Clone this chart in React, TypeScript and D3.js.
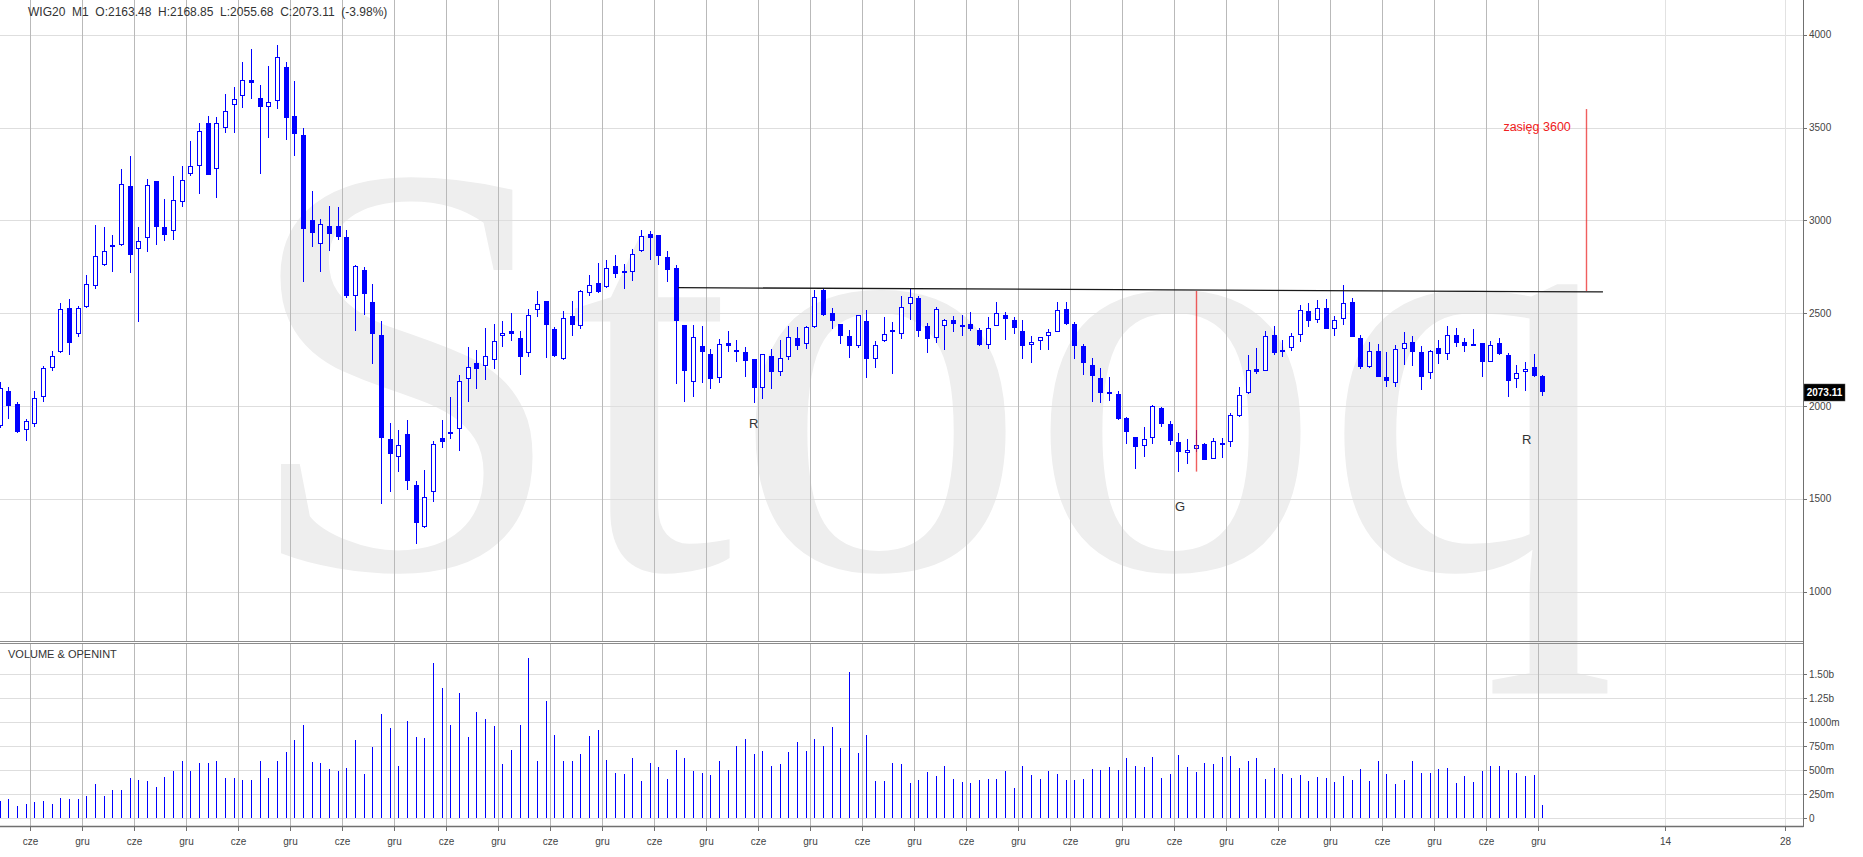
import React from 'react';
import * as d3 from 'd3';

// ---- Data: WIG20 monthly candles ----
const opens = [
  1890, 2083, 2010, 1869, 1904, 2049, 2203, 2290, 2528, 2387,
  2534, 2646, 2762, 2858, 2866, 3187, 2847, 2907, 3214, 2966,
  2943, 3098, 3252, 3295, 3523, 3279, 3496, 3623, 3670, 3755,
  3658, 3610, 3643, 3826, 3565, 3459, 3001, 2874, 2970, 2970,
  2912, 2595, 2735, 2561, 2383, 1821, 1726, 1852, 1575, 1347,
  1537, 1830, 1852, 1875, 2145, 2232, 2217, 2246, 2377, 2402,
  2367, 2284, 2518, 2565, 2414, 2252, 2487, 2429, 2609, 2661,
  2642, 2754, 2729, 2723, 2836, 2926, 2921, 2805, 2745, 2435,
  2128, 2325, 2282, 2153, 2339, 2303, 2292, 2255, 2096, 2271,
  2186, 2267, 2366, 2332, 2426, 2623, 2502, 2442, 2379, 2321,
  2459, 2253, 2348, 2412, 2388, 2552, 2583, 2433, 2366, 2433,
  2462, 2437, 2442, 2408, 2330, 2433, 2493, 2466, 2406, 2330,
  2352, 2379, 2397, 2523, 2442, 2325, 2222, 2150, 2074, 2063,
  1935, 1834, 1787, 1830, 1987, 1901, 1809, 1749, 1767, 1798,
  1717, 1803, 1807, 1946, 2069, 2199, 2191, 2383, 2291, 2314,
  2383, 2511, 2466, 2529, 2415, 2469, 2561, 2366, 2213, 2294,
  2159, 2123, 2310, 2345, 2291, 2177, 2312, 2282, 2385, 2345,
  2325, 2339, 2240, 2339, 2276, 2144, 2182, 2209, 2163.48,
];
const highs = [
  2130, 2101, 2024, 1929, 2083, 2217, 2294, 2555, 2578, 2537,
  2706, 2976, 2966, 2922, 3279, 3349, 2966, 3225, 3214, 3117,
  3241, 3291, 3430, 3523, 3565, 3556, 3681, 3720, 3855, 3923,
  3729, 3832, 3946, 3855, 3749, 3498, 3160, 3009, 3078, 3071,
  2947, 2758, 2750, 2657, 2458, 1908, 1869, 1923, 1598, 1653,
  1811, 1923, 2049, 2170, 2317, 2300, 2422, 2441, 2458, 2503,
  2406, 2522, 2619, 2568, 2425, 2510, 2565, 2624, 2706, 2769,
  2787, 2812, 2764, 2847, 2950, 2944, 2921, 2836, 2758, 2439,
  2439, 2430, 2309, 2363, 2406, 2357, 2318, 2255, 2282, 2307,
  2357, 2430, 2424, 2430, 2623, 2637, 2529, 2442, 2412, 2491,
  2520, 2348, 2480, 2451, 2592, 2628, 2592, 2448, 2532, 2469,
  2487, 2493, 2509, 2421, 2480, 2563, 2509, 2480, 2466, 2379,
  2372, 2415, 2563, 2563, 2455, 2336, 2258, 2204, 2155, 2083,
  1942, 1834, 1885, 2005, 1996, 1919, 1857, 1820, 1870, 1800,
  1830, 1830, 1964, 2101, 2276, 2312, 2403, 2430, 2357, 2394,
  2542, 2556, 2569, 2578, 2484, 2653, 2583, 2384, 2343, 2334,
  2291, 2329, 2397, 2379, 2325, 2303, 2357, 2430, 2421, 2366,
  2415, 2339, 2348, 2364, 2285, 2220, 2236, 2282, 2168.85,
];
const lows = [
  1880, 1933, 1855, 1811, 1888, 2020, 2190, 2286, 2277, 2373,
  2530, 2628, 2754, 2721, 2862, 2715, 2451, 2831, 2866, 2889,
  2893, 3073, 3237, 3144, 3245, 3121, 3469, 3473, 3604, 3652,
  3252, 3446, 3598, 3434, 3349, 2671, 2858, 2721, 2835, 2893,
  2580, 2406, 2493, 2228, 1473, 1537, 1643, 1546, 1257, 1343,
  1483, 1776, 1821, 1759, 2024, 2091, 2140, 2197, 2319, 2352,
  2170, 2267, 2479, 2261, 2263, 2248, 2375, 2414, 2595, 2607,
  2638, 2692, 2630, 2673, 2830, 2787, 2758, 2668, 2117, 2023,
  2051, 2123, 2094, 2123, 2289, 2240, 2159, 2014, 2040, 2094,
  2164, 2249, 2303, 2310, 2422, 2484, 2415, 2334, 2258, 2312,
  2153, 2204, 2343, 2171, 2361, 2466, 2372, 2285, 2339, 2300,
  2397, 2375, 2403, 2325, 2307, 2430, 2354, 2388, 2253, 2231,
  2303, 2303, 2397, 2439, 2253, 2168, 2020, 2014, 2029, 1924,
  1798, 1663, 1726, 1798, 1888, 1789, 1644, 1690, 1753, 1711,
  1717, 1721, 1780, 1942, 2063, 2173, 2191, 2276, 2264, 2294,
  2343, 2424, 2448, 2415, 2375, 2435, 2372, 2199, 2204, 2155,
  2101, 2101, 2222, 2217, 2087, 2146, 2226, 2249, 2318, 2291,
  2325, 2155, 2236, 2274, 2047, 2096, 2081, 2159, 2055.68,
];
const closes = [
  2097, 2000, 1859, 1917, 2045, 2203, 2271, 2522, 2342, 2528,
  2657, 2808, 2835, 2870, 3198, 2812, 2889, 3192, 2966, 2920,
  3109, 3218, 3291, 3484, 3245, 3523, 3592, 3652, 3758, 3739,
  3610, 3637, 3880, 3550, 3463, 2955, 2934, 2982, 2928, 2912,
  2595, 2754, 2603, 2387, 1830, 1743, 1792, 1595, 1372, 1512,
  1797, 1807, 1861, 2136, 2213, 2197, 2271, 2352, 2391, 2387,
  2267, 2493, 2549, 2435, 2271, 2474, 2435, 2619, 2653, 2615,
  2746, 2711, 2719, 2818, 2917, 2908, 2809, 2735, 2457, 2191,
  2372, 2289, 2148, 2336, 2321, 2289, 2245, 2099, 2282, 2186,
  2258, 2372, 2321, 2426, 2588, 2493, 2457, 2375, 2321, 2491,
  2253, 2330, 2386, 2399, 2534, 2588, 2403, 2361, 2523, 2462,
  2442, 2426, 2415, 2330, 2421, 2502, 2469, 2421, 2321, 2345,
  2372, 2399, 2516, 2442, 2325, 2231, 2164, 2069, 2063, 1928,
  1861, 1780, 1825, 2000, 1901, 1812, 1753, 1762, 1792, 1711,
  1812, 1792, 1950, 2058, 2193, 2181, 2379, 2285, 2301, 2379,
  2516, 2457, 2529, 2415, 2462, 2556, 2372, 2213, 2294, 2159,
  2137, 2307, 2339, 2289, 2155, 2294, 2280, 2383, 2339, 2321,
  2336, 2240, 2330, 2282, 2137, 2177, 2199, 2164, 2073.11,
];
// volume in millions
const volumes = [
  180, 196, 127, 148, 169, 179, 148, 210, 200, 200,
  230, 354, 230, 299, 292, 416, 396, 385, 323, 427,
  488, 602, 488, 581, 581, 602, 416, 416, 396, 396,
  602, 416, 602, 695, 819, 970, 588, 578, 509, 488,
  519, 819, 458, 746, 1087, 943, 540, 1015, 850, 839,
  1620, 1362, 970, 1304, 850, 1108, 1035, 963, 561, 716,
  970, 1665, 602, 1218, 870, 602, 602, 674, 860, 922,
  612, 468, 458, 623, 385, 581, 530, 406, 716, 633,
  488, 468, 447, 602, 499, 757, 829, 674, 705, 550,
  561, 695, 798, 705, 829, 757, 953, 736, 1520, 685,
  870, 385, 385, 581, 561, 365, 396, 478, 437, 550,
  406, 375, 365, 396, 406, 406, 488, 313, 540, 447,
  406, 488, 458, 396, 402, 413, 509, 499, 530, 499,
  633, 540, 530, 643, 416, 458, 664, 530, 478, 581,
  561, 643, 654, 519, 602, 633, 406, 519, 458, 416,
  447, 385, 427, 416, 375, 437, 396, 509, 385, 592,
  458, 354, 396, 602, 468, 468, 509, 519, 365, 437,
  375, 488, 540, 540, 499, 468, 437, 447, 138,
];

const priceTicks = [1000, 1500, 2000, 2500, 3000, 3500, 4000];
const volumeTicks = [0, 250, 500, 750, 1000, 1250, 1500];
const volumeTickLabels = ['0', '250m', '500m', '750m', '1000m', '1.25b', '1.50b'];
const timeTickLabels = [
  'cze', 'gru', 'cze', 'gru', 'cze', 'gru', 'cze', 'gru', 'cze', 'gru',
  'cze', 'gru', 'cze', 'gru', 'cze', 'gru', 'cze', 'gru', 'cze', 'gru',
  'cze', 'gru', 'cze', 'gru', 'cze', 'gru', 'cze', 'gru', 'cze', 'gru',
];
const futureTickLabels = ['14', '28'];
const futureTickIdx = [192.2, 206];
const lastChange = '(-3.98%)';

// annotations in data units (candle index, price)
const resistance = { i0: 78.3, p0: 2638, i1: 185, p1: 2615 };
const redLines = [
  { i: 138.1, p0: 2620, p1: 1647 },
  { i: 183.0, p0: 3600, p1: 2620 },
];
const targetLabel = { i: 177.4, p: 3503, text: 'zasięg 3600' };
const letterLabels = [
  { i: 87.0, p: 1909, text: 'R' },
  { i: 136.2, p: 1462, text: 'G' },
  { i: 176.2, p: 1823, text: 'R' },
];

const W = 1863;
const H = 857;
const AXIS_X = 1803;
const MAIN_BOTTOM = 641;
const VOL_TOP = 644;
const AXIS_BOTTOM = 826;
const BLUE = '#0000ff';
const FONT = '"Liberation Sans", Arial, sans-serif';

export default function App() {
  const n = closes.length;
  const x = d3.scaleLinear().domain([0, n - 1]).range([-0.37, 1542.3]);
  const py = d3.scaleLinear().domain([1000, 4000]).range([591.7, 34.8]);
  const vy = d3.scaleLinear().domain([0, 1500]).range([818.3, 674.3]);

  const timeTicks = timeTickLabels.map((lab, k) => ({ lab, px: Math.round(x(3.5 + 6 * k)) + 0.5 }));
  const futTicks = futureTickLabels.map((lab, k) => ({ lab, px: Math.round(x(futureTickIdx[k])) + 0.5 }));

  const header = `WIG20  M1  O:${opens[n - 1].toFixed(2)}  H:${highs[n - 1].toFixed(2)}  L:${lows[n - 1].toFixed(2)}  C:${closes[n - 1].toFixed(2)}  ${lastChange}`;
  const lastY = Math.round(py(closes[n - 1]));

  return (
    <div style={{ position: 'absolute', left: 0, top: 0 }}>
      <svg width={W} height={H} style={{ display: 'block', background: '#fff' }}>
        {/* watermark */}
        <text x={241} y={568} fontFamily='"Liberation Serif", "Times New Roman", serif' fontSize={590} fill="#eeeeee">
          Stooq
        </text>

        {/* horizontal grid - price */}
        {priceTicks.map((t) => (
          <line key={'pg' + t} x1={0} x2={AXIS_X} y1={Math.round(py(t)) + 0.5} y2={Math.round(py(t)) + 0.5} stroke="#dedede" />
        ))}
        {/* horizontal grid - volume */}
        {volumeTicks.map((t) => (
          <line key={'vg' + t} x1={0} x2={AXIS_X} y1={Math.round(vy(t)) + 0.5} y2={Math.round(vy(t)) + 0.5} stroke="#dedede" />
        ))}
        {/* vertical grid */}
        {timeTicks.map((t, k) => (
          <g key={'tg' + k}>
            <line x1={t.px} x2={t.px} y1={0} y2={MAIN_BOTTOM} stroke="#b9b9b9" />
            <line x1={t.px} x2={t.px} y1={VOL_TOP} y2={AXIS_BOTTOM} stroke="#b9b9b9" />
          </g>
        ))}
        {futTicks.map((t, k) => (
          <g key={'fg' + k}>
            <line x1={t.px} x2={t.px} y1={0} y2={MAIN_BOTTOM} stroke="#e2e2e2" />
            <line x1={t.px} x2={t.px} y1={VOL_TOP} y2={AXIS_BOTTOM} stroke="#e2e2e2" />
          </g>
        ))}

        {/* panel separators and axes */}
        <line x1={0} x2={AXIS_X} y1={MAIN_BOTTOM + 0.5} y2={MAIN_BOTTOM + 0.5} stroke="#8c8c8c" />
        <line x1={0} x2={AXIS_X} y1={VOL_TOP - 0.5} y2={VOL_TOP - 0.5} stroke="#8c8c8c" />
        <line x1={0} x2={AXIS_X + 0.5} y1={AXIS_BOTTOM + 0.5} y2={AXIS_BOTTOM + 0.5} stroke="#707070" strokeWidth={1.5} />
        <line x1={AXIS_X + 0.5} x2={AXIS_X + 0.5} y1={0} y2={AXIS_BOTTOM + 1} stroke="#707070" />

        {/* header */}
        <text x={28} y={16} fontFamily={FONT} fontSize={12} fill="#333" style={{ whiteSpace: 'pre' }}>
          {header}
        </text>
        <text x={8} y={658} fontFamily={FONT} fontSize={11} fill="#333">
          VOLUME &amp; OPENINT
        </text>

        {/* volume bars */}
        {volumes.map((v, i) => {
          const cx = Math.round(x(i)) + 0.5;
          return <line key={'v' + i} x1={cx} x2={cx} y1={Math.round(vy(0))} y2={Math.round(vy(v))} stroke={BLUE} strokeWidth={1} />;
        })}

        {/* candles */}
        {closes.map((c, i) => {
          const o = opens[i];
          const cx = Math.round(x(i));
          const yH = Math.round(py(highs[i]));
          const yL = Math.round(py(lows[i]));
          const yO = Math.round(py(o));
          const yC = Math.round(py(c));
          const up = c >= o;
          return (
            <g key={'c' + i}>
              <line x1={cx + 0.5} x2={cx + 0.5} y1={yH} y2={yL} stroke={BLUE} strokeWidth={1} />
              {up ? (
                <rect x={cx - 1.5} y={yC + 0.5} width={4} height={Math.max(yO - yC - 1, 1)} fill="#fff" stroke={BLUE} strokeWidth={1} />
              ) : (
                <rect x={cx - 2} y={yO} width={5} height={Math.max(yC - yO, 1)} fill={BLUE} />
              )}
            </g>
          );
        })}

        {/* annotations */}
        <line
          x1={x(resistance.i0)}
          y1={py(resistance.p0)}
          x2={x(resistance.i1)}
          y2={py(resistance.p1)}
          stroke="#1a1a1a"
          strokeWidth={1.3}
        />
        {redLines.map((r, k) => (
          <line
            key={'rl' + k}
            x1={Math.round(x(r.i)) + 0.5}
            x2={Math.round(x(r.i)) + 0.5}
            y1={py(r.p0)}
            y2={py(r.p1)}
            stroke="rgba(235,40,40,0.75)"
            strokeWidth={1.4}
          />
        ))}
        <text x={x(targetLabel.i)} y={py(targetLabel.p) + 4} textAnchor="middle" fontFamily={FONT} fontSize={12.5} fill="#f02020">
          {targetLabel.text}
        </text>
        {letterLabels.map((l, k) => (
          <text key={'ll' + k} x={x(l.i)} y={py(l.p) + 5} textAnchor="middle" fontFamily={FONT} fontSize={13} fill="#333">
            {l.text}
          </text>
        ))}

        {/* right axis labels */}
        {priceTicks.map((t) => (
          <g key={'pl' + t}>
            <line x1={AXIS_X} x2={AXIS_X + 4} y1={Math.round(py(t)) + 0.5} y2={Math.round(py(t)) + 0.5} stroke="#707070" />
            <text x={AXIS_X + 6} y={py(t) + 3.5} fontFamily={FONT} fontSize={10} fill="#444">
              {t}
            </text>
          </g>
        ))}
        {volumeTicks.map((t, k) => (
          <g key={'vl' + t}>
            <line x1={AXIS_X} x2={AXIS_X + 4} y1={Math.round(vy(t)) + 0.5} y2={Math.round(vy(t)) + 0.5} stroke="#707070" />
            <text x={AXIS_X + 6} y={vy(t) + 3.5} fontFamily={FONT} fontSize={10} fill="#444">
              {volumeTickLabels[k]}
            </text>
          </g>
        ))}
        {/* last price box */}
        <rect x={AXIS_X + 1} y={lastY - 8} width={41} height={17} fill="#000" stroke="#555" strokeWidth={0.5} />
        <text x={AXIS_X + 21.5} y={lastY + 4} textAnchor="middle" fontFamily={FONT} fontSize={10} fontWeight="bold" fill="#fff">
          {closes[n - 1].toFixed(2)}
        </text>

        {/* bottom axis labels */}
        {[...timeTicks, ...futTicks].map((t, k) => (
          <g key={'tl' + k}>
            <line x1={t.px} x2={t.px} y1={AXIS_BOTTOM} y2={AXIS_BOTTOM + 5} stroke="#707070" />
            <text x={t.px} y={845} textAnchor="middle" fontFamily={FONT} fontSize={10} fill="#444">
              {t.lab}
            </text>
          </g>
        ))}
      </svg>
    </div>
  );
}
